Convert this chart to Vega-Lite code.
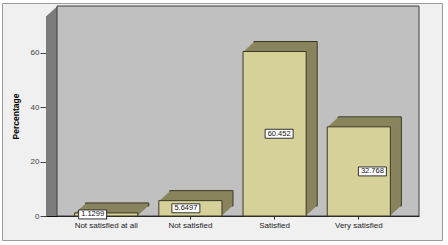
{
  "$schema": "https://vega.github.io/schema/vega-lite/v6.json",
  "width": 440,
  "height": 237,
  "autosize": {"type": "none"},
  "padding": {"left": 2, "top": 3, "right": 6, "bottom": 5},
  "background": "#ffffff",
  "config": {
    "font": "Liberation Sans",
    "view": {"stroke": "#9a9a9a", "strokeWidth": 1, "fill": "#f0f0f0"}
  },
  "data": {
    "values": [
      {"category": "Not satisfied at all", "value": 1.1299},
      {"category": "Not satisfied", "value": 5.6497},
      {"category": "Satisfied", "value": 60.452},
      {"category": "Very satisfied", "value": 32.768}
    ]
  },
  "resolve": {"scale": {"x": "independent", "y": "independent"}},
  "layer": [
    {
      "data": {"values": [{"part": "walls"}]},
      "encoding": {
        "x": {"datum": 0, "type": "quantitative", "scale": {"domain": [0, 1], "range": [44, 417]}, "axis": null},
        "x2": {"datum": 1},
        "y": {"datum": 73.5, "type": "quantitative", "scale": {"domain": [0, 73.5], "range": [213, 13]}, "axis": null},
        "y2": {"datum": 0}
      },
      "layer": [
        {"mark": {"type": "rect", "fill": "#7c7c7c", "xOffset": 0, "yOffset": 0}},
        {"mark": {"type": "rect", "fill": "#7c7c7c", "xOffset": 1.1, "yOffset": -1}},
        {"mark": {"type": "rect", "fill": "#7c7c7c", "xOffset": 2.2, "yOffset": -2}},
        {"mark": {"type": "rect", "fill": "#7c7c7c", "xOffset": 3.3, "yOffset": -3}},
        {"mark": {"type": "rect", "fill": "#7c7c7c", "xOffset": 4.4, "yOffset": -4}},
        {"mark": {"type": "rect", "fill": "#7c7c7c", "xOffset": 5.5, "yOffset": -5}},
        {"mark": {"type": "rect", "fill": "#7c7c7c", "xOffset": 6.6, "yOffset": -6}},
        {"mark": {"type": "rect", "fill": "#7c7c7c", "xOffset": 7.7, "yOffset": -7}},
        {"mark": {"type": "rect", "fill": "#7c7c7c", "xOffset": 8.8, "yOffset": -8}},
        {"mark": {"type": "rect", "fill": "#7c7c7c", "xOffset": 9.9, "yOffset": -9}},
        {"mark": {"type": "rect", "fill": "#c0c0c0", "stroke": "#3c3c3c", "strokeWidth": 1, "xOffset": 11, "yOffset": -10}}
      ]
    },
    {
      "encoding": {
        "x": {
          "field": "category", "type": "nominal", "sort": null,
          "scale": {"range": [44, 417], "paddingInner": 0.25, "paddingOuter": 0.34},
          "axis": {
            "title": null, "offset": -24, "labelAngle": 0, "labelFontSize": 8,
            "labelColor": "#222222", "tickSize": 3, "tickColor": "#222222",
            "domainColor": "#111111", "labelPadding": 2
          }
        },
        "y": {
          "field": "value", "type": "quantitative",
          "scale": {"domain": [0, 73.5], "range": [213, 13], "nice": false, "zero": true},
          "axis": {
            "title": "Percentage", "offset": -44, "values": [0, 20, 40, 60], "grid": false,
            "tickSize": 6, "tickColor": "#444444", "labelFontSize": 8, "labelColor": "#444444",
            "domainColor": "#111111", "labelPadding": 1,
            "titleFontSize": 8.5, "titleFontWeight": "bold", "titleColor": "#000000", "titleX": -26
          }
        }
      },
      "layer": [
        {"mark": {"type": "bar", "fill": "#88835c", "stroke": "#3a3826", "strokeWidth": 1, "xOffset": 11, "yOffset": -10}},
        {"mark": {"type": "bar", "fill": "#89845d", "xOffset": 9.9, "yOffset": -9}},
        {"mark": {"type": "bar", "fill": "#89845d", "xOffset": 8.8, "yOffset": -8}},
        {"mark": {"type": "bar", "fill": "#89845d", "xOffset": 7.7, "yOffset": -7}},
        {"mark": {"type": "bar", "fill": "#89845d", "xOffset": 6.6, "yOffset": -6}},
        {"mark": {"type": "bar", "fill": "#89845d", "xOffset": 5.5, "yOffset": -5}},
        {"mark": {"type": "bar", "fill": "#89845d", "xOffset": 4.4, "yOffset": -4}},
        {"mark": {"type": "bar", "fill": "#89845d", "xOffset": 3.3, "yOffset": -3}},
        {"mark": {"type": "bar", "fill": "#89845d", "xOffset": 2.2, "yOffset": -2}},
        {"mark": {"type": "bar", "fill": "#89845d", "xOffset": 1.1, "yOffset": -1}},
        {"mark": {"type": "bar", "fill": "#d5d199", "stroke": "#3a3826", "strokeWidth": 1}}
      ]
    },
    {
      "encoding": {
        "x": {
          "field": "category", "type": "nominal", "sort": null,
          "scale": {"range": [44, 417], "paddingInner": 0.25, "paddingOuter": 0.34},
          "axis": null
        },
        "y": {
          "field": "value", "type": "quantitative",
          "scale": {"domain": [0, 147], "range": [213, 13], "nice": false},
          "axis": null
        }
      },
      "layer": [
        {"mark": {"type": "point", "shape": "M-1,-0.32L1,-0.32L1,0.32L-1,0.32Z", "size": 784, "filled": true, "color": "#ffffff", "fill": "#ffffff", "stroke": "#333333", "strokeWidth": 1, "opacity": 1, "fillOpacity": 1, "strokeOpacity": 1}},
        {"mark": {"type": "text", "fontSize": 7.5, "color": "#111111", "fill": "#111111", "align": "center", "baseline": "middle"}, "encoding": {"text": {"field": "value", "type": "quantitative"}}}
      ]
    }
  ]
}
